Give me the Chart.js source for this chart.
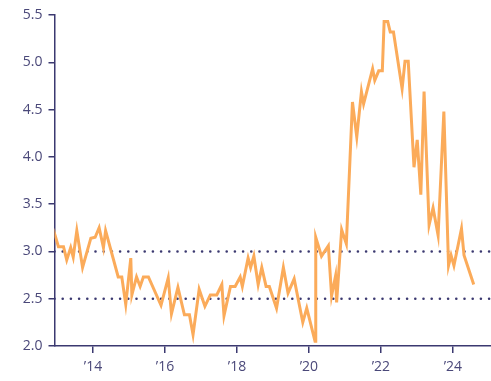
<!DOCTYPE html>
<html>
<head>
<meta charset="utf-8">
<script src="https://cdn.jsdelivr.net/npm/chart.js@4/dist/chart.umd.min.js"></script>
<style>
  html, body { margin: 0; padding: 0; background: #ffffff; }
  #wrap { width: 491px; height: 381px; position: relative; }
</style>
</head>
<body>
<div id="wrap"><canvas id="c" width="491" height="381"></canvas></div>
<script>
// Dates as decimal years
const dates = [2012.89, 2013.04, 2013.18, 2013.27, 2013.38, 2013.45, 2013.55, 2013.71, 2013.94, 2014.06,
  2014.17, 2014.29, 2014.35, 2014.70, 2014.80, 2014.91, 2015.05, 2015.08, 2015.21, 2015.31,
  2015.40, 2015.54, 2015.89, 2016.09, 2016.18, 2016.36, 2016.54, 2016.68, 2016.78, 2016.95,
  2017.11, 2017.26, 2017.44, 2017.58, 2017.64, 2017.82, 2017.95, 2018.09, 2018.15, 2018.31,
  2018.38, 2018.47, 2018.59, 2018.69, 2018.81, 2018.90, 2019.10, 2019.29, 2019.42, 2019.59,
  2019.83, 2019.94, 2020.17, 2020.19, 2020.35, 2020.54, 2020.63, 2020.74, 2020.77, 2020.91,
  2021.04, 2021.21, 2021.33, 2021.46, 2021.52, 2021.77, 2021.83, 2021.94, 2022.04, 2022.09,
  2022.19, 2022.26, 2022.35, 2022.59, 2022.67, 2022.76, 2022.92, 2023.01, 2023.11, 2023.20,
  2023.34, 2023.45, 2023.59, 2023.75, 2023.88, 2023.95, 2024.03, 2024.24, 2024.31, 2024.58];
const values = [3.24, 3.05, 3.05, 2.91, 3.04, 2.94, 3.22, 2.83, 3.14, 3.15,
  3.25, 3.04, 3.22, 2.73, 2.73, 2.44, 2.93, 2.54, 2.73, 2.63,
  2.73, 2.73, 2.43, 2.72, 2.34, 2.62, 2.33, 2.33, 2.12, 2.60,
  2.42, 2.54, 2.54, 2.65, 2.32, 2.63, 2.63, 2.73, 2.63, 2.93,
  2.83, 2.95, 2.65, 2.83, 2.63, 2.63, 2.40, 2.83, 2.56, 2.71,
  2.25, 2.40, 2.05, 3.15, 2.95, 3.06, 2.53, 2.74, 2.46, 3.23,
  3.08, 4.58, 4.21, 4.69, 4.56, 4.93, 4.81, 4.91, 4.91, 5.43,
  5.43, 5.32, 5.32, 4.72, 5.01, 5.01, 3.89, 4.18, 3.60, 4.69,
  3.28, 3.46, 3.17, 4.48, 2.85, 2.96, 2.85, 3.24, 2.96, 2.65];
const refLevels = [3.0, 2.5];
const xTickYears = [2014, 2016, 2018, 2020, 2022, 2024];
const yTicks = [2.0, 2.5, 3.0, 3.5, 4.0, 4.5, 5.0, 5.5];

const X_MIN = 2012.93, X_MAX = 2025.06;
const NAVY = '#3b3970';
const LABEL = '#4a4879';
const ORANGE = '#fbab5a';

const seriesData = dates.map((d, i) => ({ x: d, y: values[i] }));
const refSets = refLevels.map(v => ({
  data: [{ x: X_MIN, y: v }, { x: X_MAX, y: v }],
  borderColor: NAVY,
  borderWidth: 2.6,
  borderDash: [0, 8.2],
  borderCapStyle: 'round',
  pointRadius: 0,
  fill: false,
  order: 2
}));

new Chart(document.getElementById('c'), {
  type: 'line',
  data: {
    datasets: [{
      data: seriesData,
      borderColor: ORANGE,
      borderWidth: 3,
      pointRadius: 0,
      tension: 0,
      fill: false,
      order: 0
    }, ...refSets]
  },
  options: {
    responsive: false,
    animation: false,
    events: [],
    layout: { padding: { top: 15, right: 0, left: 0, bottom: 0 } },
    plugins: { legend: { display: false }, tooltip: { enabled: false } },
    scales: {
      x: {
        type: 'linear',
        min: X_MIN,
        max: X_MAX,
        afterBuildTicks: (s) => { s.ticks = xTickYears.map(v => ({ value: v })); },
        afterFit: (s) => { s.height = 35; },
        ticks: {
          color: LABEL,
          font: { family: 'Open Sans', size: 14 },
          padding: 6,
          maxRotation: 0,
          autoSkip: false,
          callback: (v) => '\u2019' + String(v).slice(2)
        },
        grid: { drawOnChartArea: false, drawTicks: true, tickLength: 7, color: NAVY, lineWidth: 1.5 },
        border: { color: NAVY, width: 1.5 }
      },
      y: {
        min: 2.0,
        max: 5.5,
        afterBuildTicks: (s) => { s.ticks = yTicks.map(v => ({ value: v })); },
        afterFit: (s) => { s.width = 54.5; },
        ticks: {
          color: LABEL,
          font: { family: 'Open Sans', size: 14 },
          padding: 6,
          callback: (v) => v.toFixed(1)
        },
        grid: { drawOnChartArea: false, drawTicks: true, tickLength: 6, color: NAVY, lineWidth: 1.5 },
        border: { color: NAVY, width: 1.5 }
      }
    }
  }
});
</script>
</body>
</html>
